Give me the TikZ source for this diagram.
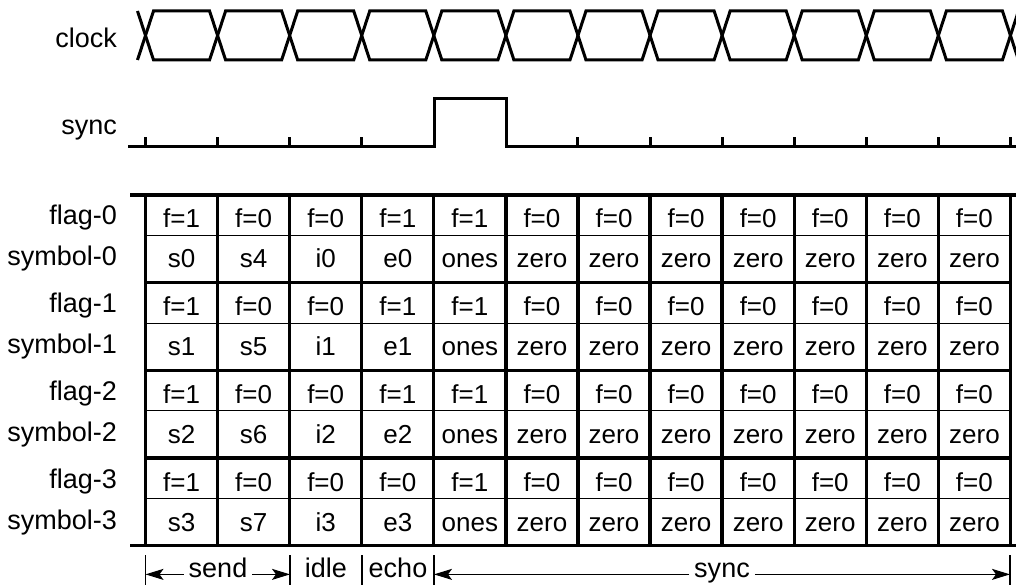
\documentclass[tikz,border=0pt]{standalone}
\usepackage{fontspec}
\setmainfont{Liberation Sans}
\usetikzlibrary{arrows.meta}

\begin{document}
\begin{tikzpicture}[x=1bp,y=-1bp,
  every node/.style={inner sep=0pt,font=\fontsize{27bp}{32bp}\selectfont},
  cell/.style={anchor=base,font=\fontsize{26bp}{31bp}\selectfont},
  sig/.style={line width=3bp},
  boldline/.style={line width=3.3bp},
  thinline/.style={line width=1.2bp},
  span/.style={inner xsep=5bp,anchor=base},
  arr/.style={thinline,-{Stealth[length=18bp,width=11bp,inset=4bp]}}]
\useasboundingbox (0,0) rectangle (1016,585);

% clock
\node [anchor=base east] (clock) at (117,48) {clock};
\draw [sig] (137.5,60) \foreach \i in {0,...,12}{
  -- ({145.5+72.08*\i+8},{35.5-24.5*cos(180*\i)})
  -- ({145.5+72.08*(\i+1)-8},{35.5-24.5*cos(180*\i)}) };
\draw [sig] (137.5,11) \foreach \i in {0,...,12}{
  -- ({145.5+72.08*\i+8},{35.5+24.5*cos(180*\i)})
  -- ({145.5+72.08*(\i+1)-8},{35.5+24.5*cos(180*\i)}) };

% sync
\node [anchor=base east] (sync) at (117,135) {sync};
\draw [sig] (128,146.7) -- (434,146.7) -- (434,99) -- (506,99) -- (506,146.7) -- (1020,146.7);
\foreach \i in {0,1,2,3,6,7,8,9,10,11,12}
  \draw [sig] ({145.5+72.08*\i},146.7) -- ++(0,-9.5);

% table
\draw [boldline] (130,195) -- (1020,195);
\draw [boldline] (130,545.7) -- (1020,545.7);
\foreach \g in {1,2,3}
  \draw [boldline] (145.5,{195+87.675*\g}) -- (1010,{195+87.675*\g});
\foreach \g in {0,1,2,3}
  \draw [thinline] (145.5,{235.5+87.675*\g}) -- (1010,{235.5+87.675*\g});
\foreach \i in {0,...,12}
  \draw [boldline] ({145.5+72.08*\i},195) -- ({145.5+72.08*\i},545.7);

\foreach \g in {0,1,2,3} {
  \pgfmathsetmacro\yt{195+87.675*\g}
  \pgfmathtruncatemacro\gg{\g+4}
  \pgfmathtruncatemacro\ef{\g<3}
  \node [anchor=base east] (flag\g) at (117,\yt+30) {flag-\g};
  \node [anchor=base east] (symbol\g) at (117,\yt+71) {symbol-\g};
  \foreach \c/\fv/\sv in {0/1/s\g, 1/0/s\gg, 2/0/i\g, 3/\ef/e\g, 4/1/ones} {
    \node [cell] (f\g-\c) at ({145.5+72.08*(\c+0.5)},\yt+33) {f=\fv};
    \node [cell] (s\g-\c) at ({145.5+72.08*(\c+0.5)},\yt+73) {\sv};
  }
  \foreach \c in {5,...,11} {
    \node [cell] (f\g-\c) at ({145.5+72.08*(\c+0.5)},\yt+33) {f=0};
    \node [cell] (s\g-\c) at ({145.5+72.08*(\c+0.5)},\yt+73) {zero};
  }
}

% phases
\coordinate (t0) at (145.5,555);
\coordinate (t1) at (290,555);
\coordinate (t2) at (362,555);
\coordinate (t3) at (434,555);
\coordinate (t4) at (1010,555);
\foreach \t in {t0,t1,t2,t3,t4}
  \draw [thinline] (\t) -- ++(0,35);
\node [span] (send) at (218,577) {send};
\node [span] (idle) at (326,577) {idle};
\node [span] (echo) at (398,577) {echo};
\node [span] (syncspan) at (722,577) {sync};
\draw [arr] (send.mid west) -- (send.mid west -| t0);
\draw [arr] (send.mid east) -- (send.mid east -| t1);
\draw [arr] (syncspan.mid west) -- (syncspan.mid west -| t3);
\draw [arr] (syncspan.mid east) -- (syncspan.mid east -| t4);
\end{tikzpicture}
\end{document}
